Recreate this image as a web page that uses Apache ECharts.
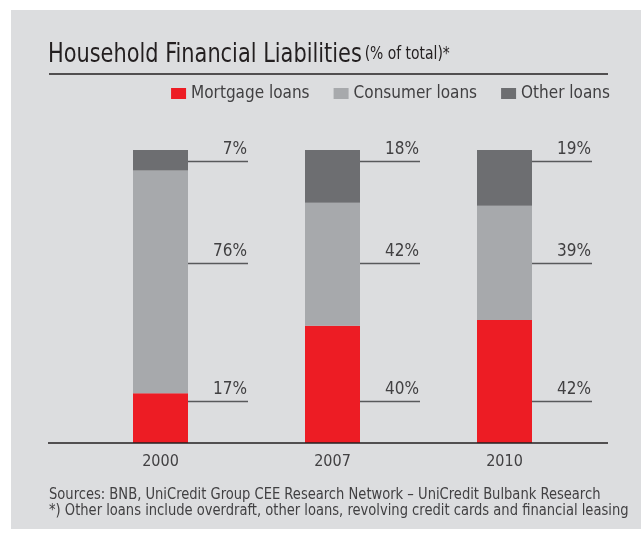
<!DOCTYPE html>
<html>
<head>
<meta charset="utf-8">
<style>
    html, body { margin: 0; padding: 0; background: #ffffff; }
    #chart { width: 641px; height: 540px; }
</style>
<script src="https://cdn.jsdelivr.net/npm/echarts@6/dist/echarts.min.js"></script>
</head>
<body>
<div id="chart"></div>
<script>
// data
const years = ['2000', '2007', '2010'];
const seriesNames = ['Mortgage loans', 'Consumer loans', 'Other loans'];
const mortgage = [17, 40, 42];
const consumer = [76, 42, 39];
const other = [7, 18, 19];

const FONT = '"DejaVu Sans Condensed", "Liberation Sans", sans-serif';
const colors = ['#ed1c24', '#a7a9ac', '#6d6e71'];
// height (in % units) of the leader line for each series
const labelRows = [14.3, 61.4, 96.2];

const chart = echarts.init(document.getElementById('chart'));

const values = [mortgage, consumer, other];
const labelData = [];
values.forEach((arr, s) => {
    arr.forEach((v, i) => {
        labelData.push([i, labelRows[s], v + '%']);
    });
});

const option = {
    animation: false,
    textStyle: { fontFamily: FONT },
    graphic: [
        { type: 'rect', z: -10, shape: { x: 11, y: 10, width: 630, height: 519 }, style: { fill: '#dcdddf' } },
        { type: 'line', shape: { x1: 49, y1: 74, x2: 608, y2: 74 }, style: { stroke: '#231f20', lineWidth: 1.3 } },
        { type: 'line', shape: { x1: 48, y1: 443, x2: 608, y2: 443 }, style: { stroke: '#231f20', lineWidth: 1.3 }, z: 10 },
        {
            type: 'text', x: 48, y: 68, scaleX: 0.86,
            style: {
                text: '{a|Household Financial Liabilities} {b|(% of total)*}',
                verticalAlign: 'bottom',
                rich: {
                    a: { fontFamily: FONT, fontSize: 27, fill: '#231f20' },
                    b: { fontFamily: FONT, fontSize: 18, fill: '#231f20' }
                }
            }
        },
        {
            type: 'text', x: 49, y: 487, scaleX: 0.91,
            style: {
                text: 'Sources: BNB, UniCredit Group CEE Research Network – UniCredit Bulbank Research\n*) Other loans include overdraft, other loans, revolving credit cards and financial leasing',
                fontFamily: FONT, fontSize: 16, lineHeight: 16, fill: '#414042'
            }
        }
    ],
    legend: {
        right: 26,
        top: 80,
        icon: 'rect',
        itemWidth: 15,
        itemHeight: 11,
        itemGap: 24,
        data: seriesNames,
        textStyle: { fontFamily: FONT, fontSize: 17, color: '#414042' }
    },
    grid: { left: 74.5, right: 50.5, top: 150, bottom: 97 },
    xAxis: {
        type: 'category',
        data: years,
        axisLine: { show: false },
        axisTick: { show: false },
        axisLabel: { margin: 11, fontSize: 16, color: '#414042', fontFamily: FONT }
    },
    yAxis: {
        type: 'value',
        min: 0,
        max: 100,
        show: false
    },
    series: [
        { name: seriesNames[0], type: 'bar', stack: 'total', barWidth: 55, data: mortgage, itemStyle: { color: colors[0] } },
        { name: seriesNames[1], type: 'bar', stack: 'total', barWidth: 55, data: consumer, itemStyle: { color: colors[1] } },
        { name: seriesNames[2], type: 'bar', stack: 'total', barWidth: 55, data: other, itemStyle: { color: colors[2] } },
        {
            type: 'custom',
            data: labelData,
            z: 5,
            renderItem: function (params, api) {
                const p = api.coord([api.value(0), api.value(1)]);
                const x0 = p[0] + 27.5;
                const x1 = p[0] + 87.5;
                const y = Math.round(p[1]) + 0.5;
                return {
                    type: 'group',
                    children: [
                        { type: 'line', shape: { x1: x0, y1: y, x2: x1, y2: y }, style: { stroke: '#58595b', lineWidth: 1.3 } },
                        {
                            type: 'text',
                            x: x1 - 1,
                            y: y - 3,
                            style: {
                                text: labelData[params.dataIndex][2],
                                align: 'right',
                                verticalAlign: 'bottom',
                                fontFamily: FONT,
                                fontSize: 17,
                                fill: '#414042'
                            }
                        }
                    ]
                };
            }
        }
    ]
};

chart.setOption(option);
</script>
</body>
</html>
